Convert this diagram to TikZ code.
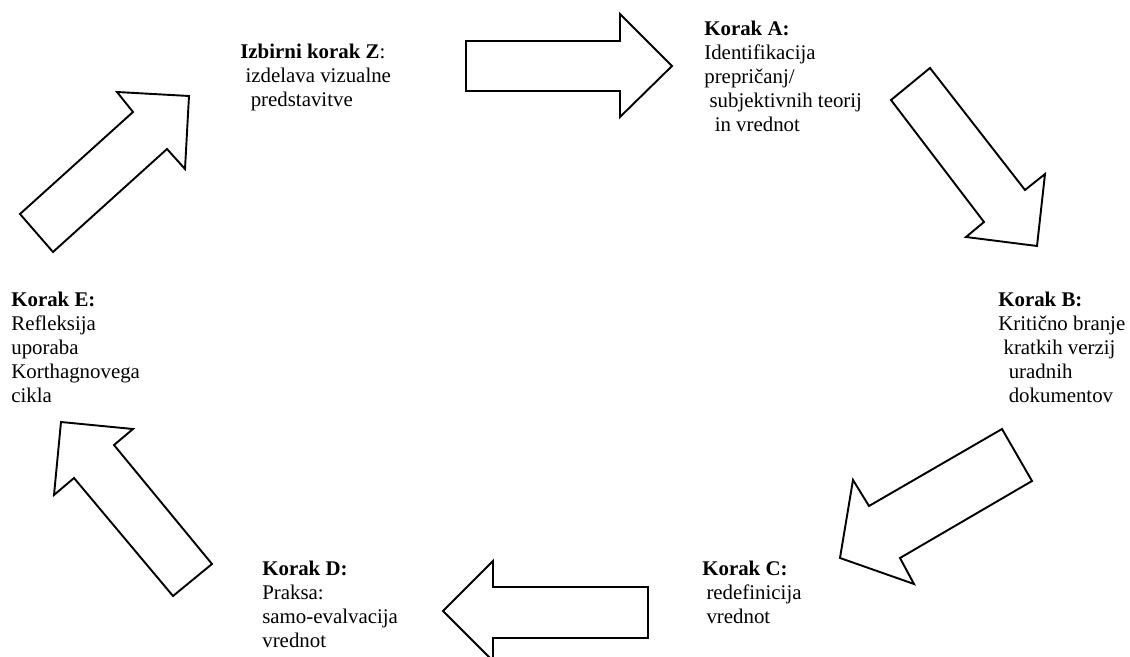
\documentclass[tikz,border=0pt]{standalone}
\usepackage{fontspec}
\setmainfont{Liberation Serif}
\usepackage{tikz}
\tikzset{
  steptext/.style={
    anchor=base west,
    inner sep=0pt,
    align=left,
    font=\fontsize{12}{13.8}\selectfont
  }
}
\tikzstyle{bigarrow} = [draw=black, line width=1.1pt, fill=white, line join=miter]
\def\korak#1{\textbf{#1}}
\def\ind#1{\hspace*{#1em}}

\begin{document}
\begin{tikzpicture}[x=0.575pt, y=-0.575pt]
    \clip (0, 0) rectangle (1130, 657);
    \fill[white] (0, 0) rectangle (1130, 657);
    \draw[bigarrow] (466, 41) -- (620, 41) -- (620, 14) -- (672, 66) -- (620, 117) -- (620, 91) -- (466, 91) -- cycle;
    \draw[bigarrow] (891, 100) -- (984, 222) -- (966, 237) -- (1037, 246) -- (1045, 174) -- (1025, 190) -- (930, 68) -- cycle;
    \draw[bigarrow] (1002, 429) -- (1032, 481) -- (900, 558) -- (914, 584) -- (840, 558) -- (853, 480) -- (869, 506) -- cycle;
    \draw[bigarrow] (648, 587) -- (493, 587) -- (493, 561) -- (443, 611) -- (493, 661) -- (493, 638) -- (648, 638) -- cycle;
    \draw[bigarrow] (212, 564) -- (114, 445) -- (133, 429) -- (61, 422) -- (54, 495) -- (74, 478) -- (173, 596) -- cycle;
    \draw[bigarrow] (20, 214) -- (133, 112) -- (117, 92) -- (189, 96) -- (185, 169) -- (167, 149) -- (53, 252) -- cycle;
    \node[steptext] (stepZ) at (240, 107) {\korak{Izbirni korak Z}:\\\ind{0.25}izdelava vizualne\\\ind{0.5}predstavitve};
    \node[steptext] (stepA) at (704, 132) {\korak{Korak A:}\\Identifikacija\\prepričanj/\\\ind{0.25}subjektivnih teorij\\\ind{0.5}in vrednot};
    \node[steptext] (stepB) at (998, 402) {\korak{Korak B:}\\Kritično branje\\\ind{0.25}kratkih verzij\\\ind{0.5}uradnih\\\ind{0.5}dokumentov};
    \node[steptext] (stepC) at (702, 623) {\korak{Korak C:}\\\ind{0.2}redefinicija\\\ind{0.2}vrednot};
    \node[steptext] (stepD) at (262, 647) {\korak{Korak D:}\\Praksa:\\samo-evalvacija\\vrednot};
    \node[steptext] (stepE) at (11, 402) {\korak{Korak E:}\\Refleksija\\uporaba\\Korthagnovega\\cikla};
\end{tikzpicture}
\end{document}
